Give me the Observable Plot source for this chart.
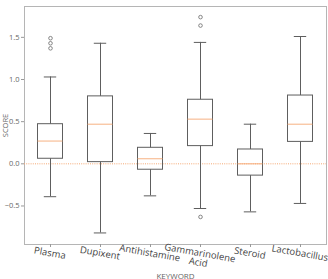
<!DOCTYPE html>
<html>
<head>
<meta charset="utf-8">
<script src="https://cdn.jsdelivr.net/npm/d3@7"></script>
<script src="https://cdn.jsdelivr.net/npm/@observablehq/plot@0.6"></script>
<style>
  html, body { margin: 0; padding: 0; background: #fff; }
</style>
</head>
<body>
<div id="chart"></div>
<script>
const categories = ["Plasma", "Dupixent", "Antihistamine", "Gammarinolene\nAcid", "Steroid", "Lactobacillus"];
const whiskerLow  = [-0.39, -0.82, -0.38, -0.53, -0.57, -0.47];
const q1          = [ 0.06,  0.02, -0.07,  0.21, -0.14,  0.26];
const median      = [ 0.27,  0.47,  0.06,  0.53,  0.00,  0.47];
const q3          = [ 0.47,  0.80,  0.19,  0.76,  0.17,  0.81];
const whiskerHigh = [ 1.03,  1.43,  0.36,  1.44,  0.47,  1.51];
const outlierCategory = ["Plasma", "Plasma", "Plasma", "Gammarinolene\nAcid", "Gammarinolene\nAcid", "Gammarinolene\nAcid"];
const outlierValue    = [1.49, 1.43, 1.37, 1.74, 1.64, -0.63];
const yTicks = [-0.5, 0, 0.5, 1.0, 1.5];

const idx = d3.range(categories.length);
const outIdx = d3.range(outlierValue.length);
const boxStroke = "#5e5e5e";
const orange = "#f5a874";

const chart = Plot.plot({
  width: 328,
  height: 279,
  marginLeft: 24,
  marginRight: 2,
  marginTop: 6,
  marginBottom: 35,
  style: { fontFamily: "'Open Sans', sans-serif", fontSize: "8.5px", color: "#666", background: "#fff" },
  x: { domain: categories, padding: 0 },
  y: { domain: [-0.957, 1.866] },
  marks: [
    Plot.frame({ stroke: "#b5b5b5" }),
    Plot.axisY({ ticks: yTicks, tickFormat: d3.format(".1f"), tickSize: 3, tickPadding: 2, stroke: "#999",
                 label: "SCORE", labelAnchor: "center", labelArrow: "none", labelOffset: 21.5, fontSize: 7.5 }),
    Plot.axisX({ tickSize: 3, tickFormat: () => "", stroke: "#999", label: "KEYWORD", labelAnchor: "center",
                 labelArrow: "none", labelOffset: 34, fontSize: 8 }),
    Plot.text(idx, { x: i => categories[i], text: i => categories[i], frameAnchor: "bottom", dy: 5,
                     lineAnchor: "top", rotate: 10, fontSize: 9.5, fill: "#444", lineHeight: 1.0 }),
    Plot.ruleY([0], { stroke: orange, strokeDasharray: "1,1.2", strokeWidth: 1 }),
    Plot.ruleX(idx, { x: i => categories[i], y1: i => whiskerLow[i], y2: i => q1[i], stroke: boxStroke }),
    Plot.ruleX(idx, { x: i => categories[i], y1: i => q3[i], y2: i => whiskerHigh[i], stroke: boxStroke }),
    Plot.tickY(idx, { x: i => categories[i], y: i => whiskerLow[i], stroke: boxStroke, insetLeft: 18.8, insetRight: 18.8 }),
    Plot.tickY(idx, { x: i => categories[i], y: i => whiskerHigh[i], stroke: boxStroke, insetLeft: 18.8, insetRight: 18.8 }),
    Plot.barY(idx, { x: i => categories[i], y1: i => q1[i], y2: i => q3[i], fill: "none", stroke: boxStroke,
                     insetLeft: 12.5, insetRight: 12.5 }),
    Plot.tickY(idx, { x: i => categories[i], y: i => median[i], stroke: orange, strokeWidth: 0.9, insetLeft: 12.5, insetRight: 12.5 }),
    Plot.dot(outIdx, { x: i => outlierCategory[i], y: i => outlierValue[i], r: 1.8, stroke: "#777", strokeWidth: 0.9 })
  ]
});
document.getElementById("chart").appendChild(chart);
</script>
</body>
</html>
